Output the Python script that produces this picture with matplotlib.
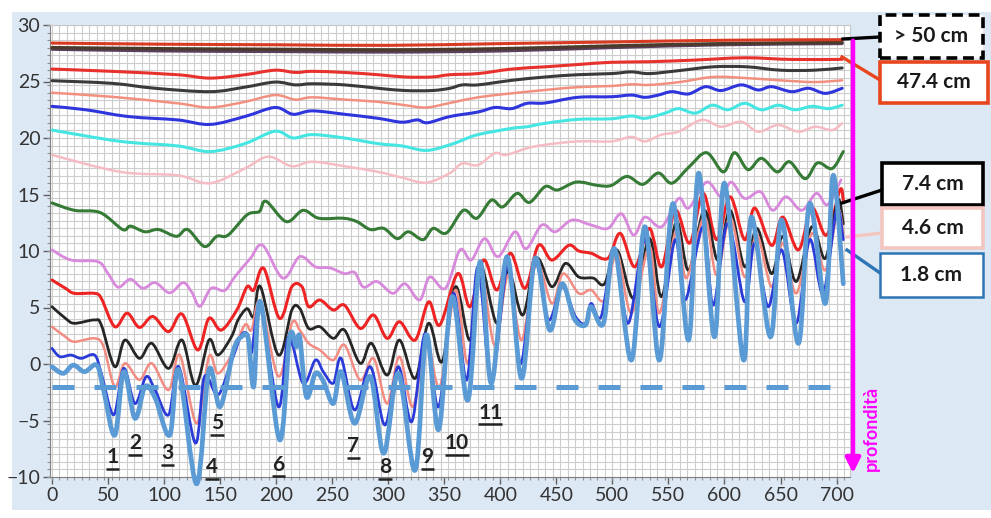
import matplotlib.pyplot as plt
import numpy as np
from matplotlib.patches import Rectangle, FancyArrowPatch, PathPatch
from matplotlib.path import Path
from matplotlib.lines import Line2D
from matplotlib.ticker import MultipleLocator

plt.rcParams['font.family'] = ['Lato', 'DejaVu Sans']

W, H = 991, 518

# ---- series (x = position, y = value) ----
top_red_x = [0, 100, 200, 300, 400, 500, 600, 705]
top_red_y = [28.4, 28.3, 28.25, 28.2, 28.35, 28.5, 28.65, 28.7]
top_dark_x = [0, 100, 200, 300, 400, 500, 600, 705]
top_dark_y = [28.0, 27.9, 27.85, 27.8, 27.9, 28.15, 28.35, 28.45]
top_purple_x = [0, 100, 200, 300, 400, 500, 600, 705]
top_purple_y = [27.85, 27.7, 27.65, 27.6, 27.7, 28.0, 28.25, 28.35]

red_up_x = [0, 53, 112, 141, 172, 199, 217, 232, 261, 291, 315, 339, 355, 380, 410,
            440, 469, 499, 533, 574, 618, 660, 705]
red_up_y = [26.1, 25.9, 25.6, 25.3, 25.6, 26.0, 25.8, 25.9, 25.8, 25.6, 25.4, 25.4, 25.6,
            25.7, 26.1, 26.3, 26.5, 26.7, 26.75, 26.9, 27.1, 26.95, 26.96]

black_up_x = [0, 53, 92, 141, 172, 199, 217, 232, 261, 291, 315, 339, 355, 366, 380, 410,
              440, 469, 499, 517, 533, 560, 590, 620, 650, 680, 705]
black_up_y = [25.07, 24.84, 24.4, 24.1, 24.5, 24.95, 24.7, 24.8, 24.7, 24.4, 24.2, 24.2, 24.4,
              24.7, 24.7, 25.1, 25.4, 25.6, 25.7, 25.85, 25.7, 25.97, 26.3, 26.3, 26.0, 26.0, 26.2]

salmon_up_x = [0, 53, 112, 141, 172, 199, 217, 232, 261, 291, 315, 334, 355, 380, 410,
               440, 469, 499, 517, 533, 560, 590, 620, 650, 680, 705]
salmon_up_y = [24.0, 23.65, 23.07, 22.7, 23.2, 23.8, 23.4, 23.6, 23.4, 23.2, 22.9, 22.7, 23.1,
               23.6, 23.95, 24.25, 24.5, 24.6, 24.75, 24.7, 24.95, 25.4, 25.3, 25.1, 24.95, 25.1]

blue_up_x = [0, 30, 68, 112, 141, 172, 199, 215, 232, 261, 291, 312, 326, 335, 355, 380, 395,
             410, 424, 440, 469, 499, 517, 529, 541, 553, 568, 583, 597, 615, 630, 642, 660,
             675, 690, 705]
blue_up_y = [22.8, 22.5, 21.9, 21.6, 21.2, 21.9, 22.7, 22.1, 22.4, 22.1, 21.74, 21.4, 21.6,
             21.35, 21.9, 22.3, 22.7, 22.6, 23.07, 23.1, 23.6, 23.65, 23.8, 23.6, 23.8, 24.1,
             23.9, 24.54, 24.2, 24.7, 24.25, 24.54, 24.1, 24.4, 23.95, 24.4]

cyan_up_x = [0, 61, 112, 141, 172, 199, 215, 232, 261, 291, 312, 334, 355, 366, 380, 410,
             424, 440, 469, 499, 517, 529, 547, 559, 574, 589, 603, 618, 633, 648, 663, 678,
             693, 705]
cyan_up_y = [20.7, 19.7, 19.3, 18.8, 19.5, 20.6, 20.0, 20.3, 20.0, 19.5, 19.3, 18.9, 19.4,
             19.8, 20.3, 20.85, 21.0, 21.3, 21.65, 21.7, 21.95, 21.74, 22.2, 22.6, 22.2, 22.9,
             22.5, 23.07, 22.5, 22.9, 22.5, 22.8, 22.6, 22.9]

pink_up_x = [0, 61, 112, 141, 172, 193, 214, 232, 261, 291, 312, 334, 355, 366, 380, 395,
             405, 424, 440, 469, 499, 517, 529, 544, 559, 580, 597, 615, 630, 648, 666, 681,
             696, 705]
pink_up_y = [18.5, 17.0, 16.7, 16.0, 17.3, 18.35, 17.5, 17.9, 17.5, 17.0, 16.5, 16.05, 16.9,
             17.75, 17.6, 18.65, 18.5, 19.1, 19.4, 19.7, 19.7, 20.1, 19.7, 20.3, 20.56, 21.6,
             21.0, 21.44, 20.56, 21.15, 20.56, 21.0, 20.7, 21.3]

green_x = [0, 20, 43, 63, 70, 83, 95, 111, 121, 136, 147, 157, 174, 185, 191, 209, 224, 238,
           260, 272, 284, 296, 308, 318, 331, 340, 352, 367, 379, 392, 402, 415, 426, 440,
           451, 468, 487, 499, 513, 527, 541, 553, 568, 584, 599, 609, 621, 633, 647, 658,
           672, 683, 696, 706]
green_y = [14.25, 13.6, 13.4, 11.9, 12.2, 11.7, 11.9, 11.3, 11.9, 10.4, 11.3, 11.4, 13.2,
           13.5, 14.4, 12.6, 13.6, 12.9, 12.9, 12.6, 11.9, 12.0, 11.1, 11.7, 11.0, 12.0, 11.6,
           13.6, 12.9, 14.5, 13.9, 15.1, 14.3, 15.7, 15.4, 16.1, 15.8, 15.8, 16.6, 15.9, 16.9,
           16.0, 17.4, 18.7, 17.0, 18.7, 17.2, 18.2, 17.0, 17.9, 16.4, 17.8, 17.3, 18.8]

violet_x = [0, 17, 41, 50, 59, 70, 81, 92, 105, 117, 125, 132, 142, 154, 163, 177, 188, 206,
            221, 235, 248, 261, 270, 278, 290, 304, 315, 328, 337, 351, 364, 374, 386, 398,
            413, 423, 437, 449, 464, 481, 496, 508, 519, 529, 544, 559, 568, 584, 597, 606,
            618, 632, 643, 655, 669, 682, 692, 704]
violet_y = [10.1, 9.2, 9.05, 8.0, 6.8, 7.5, 6.7, 7.2, 6.3, 7.2, 6.3, 5.1, 6.7, 6.5, 7.7, 9.35,
            10.5, 7.6, 9.5, 8.6, 8.5, 8.0, 8.1, 6.8, 7.3, 6.25, 7.1, 5.66, 7.7, 6.7, 10.1, 9.2,
            11.1, 9.5, 11.7, 10.2, 12.3, 11.7, 12.74, 12.3, 12.0, 13.3, 11.4, 13.0, 12.15,
            14.65, 13.8, 16.1, 14.8, 16.1, 14.65, 15.25, 13.6, 14.8, 13.6, 15.1, 14.1, 16.3]

red_lo_x = [0, 12, 20, 38, 44, 56, 67, 78, 90, 104, 116, 130, 140, 151, 165, 174, 180, 189,
            203, 214, 223, 229, 239, 251, 261, 275, 287, 299, 310, 324, 336, 346, 362, 373,
            385, 397, 409, 422, 434, 446, 461, 470, 481, 496, 507, 520, 533, 544, 556, 569,
            581, 593, 605, 618, 627, 642, 652, 666, 678, 691, 703, 706]
red_lo_y = [7.43, 6.7, 6.25, 6.25, 5.8, 3.3, 4.5, 3.24, 4.2, 2.86, 4.42, 1.24, 4.04, 3.0, 4.8,
            6.84, 6.55, 8.46, 4.04, 6.84, 6.84, 5.07, 5.66, 4.78, 5.2, 3.15, 4.33, 2.27, 3.74,
            2.12, 5.5, 3.45, 8.0, 5.07, 9.2, 6.55, 9.8, 6.7, 10.5, 9.2, 10.5, 10.0, 9.8, 9.35,
            11.56, 8.6, 12.0, 8.6, 13.6, 10.7, 15.1, 11.0, 14.8, 11.0, 13.8, 10.5, 13.0, 10.1,
            13.8, 11.4, 15.4, 14.5]

black_lo_x = [0, 12, 20, 38, 44, 56, 65, 78, 89, 104, 116, 128, 140, 148, 160, 166, 174,
              180, 186, 202, 214, 221, 229, 239, 251, 261, 275, 285, 299, 310, 324, 336, 348,
              360, 373, 382, 397, 407, 420, 432, 446, 458, 470, 483, 493, 504, 519, 533, 544,
              557, 568, 582, 594, 605, 618, 629, 642, 652, 664, 678, 690, 701, 706]
black_lo_y = [5.07, 4.04, 3.6, 3.9, 3.45, -0.24, 2.12, 0.5, 1.83, -0.39, 2.12, -1.9, 2.12,
              0.79, 2.4, 3.9, 4.9, 4.2, 6.84, 0.79, 4.78, 4.92, 3.15, 3.3, 2.27, 3.0, 0.06,
              1.83, -0.98, 2.12, -1.27, 3.6, 0.2, 6.84, 2.12, 8.76, 3.6, 8.3, 4.33, 9.35, 6.84,
              8.9, 7.7, 7.6, 7.1, 10.1, 5.8, 11.1, 5.96, 12.6, 8.3, 13.6, 9.2, 13.6, 8.6, 12.0,
              8.0, 11.3, 7.3, 12.15, 9.35, 14.5, 12.4]

salmon_lo_x = [0, 12, 20, 38, 46, 56, 65, 78, 89, 104, 114, 129, 140, 148, 160, 172, 178,
               186, 202, 214, 221, 229, 239, 251, 261, 275, 287, 299, 310, 322, 334, 346, 360,
               371, 382, 395, 407, 419, 432, 446, 456, 470, 481, 493, 504, 517, 533, 542, 557,
               566, 582, 593, 605, 618, 629, 642, 652, 664, 678, 690, 701, 706]
salmon_lo_y = [3.3, 2.4, 1.97, 2.27, 1.53, -2.0, 0.06, -1.4, 0.06, -2.3, 0.79, -5.25, 0.65,
               -0.83, 0.79, 3.45, 3.0, 5.5, -1.1, 3.6, 3.0, 1.83, 1.24, 0.35, 1.68, -1.42, 0.5,
               -3.5, 0.65, -3.78, 2.12, -2.0, 6.55, 0.06, 8.3, 1.68, 7.87, 2.12, 8.9, 5.36, 8.0,
               6.25, 6.55, 5.66, 9.8, 4.5, 10.4, 4.5, 11.9, 7.6, 13.0, 7.87, 13.0, 7.7, 11.4,
               6.84, 10.7, 6.25, 11.56, 8.3, 13.6, 11.5]

blue_lo_x = [0, 7, 17, 26, 38, 44, 55, 64, 74, 84, 92, 104, 113, 128, 136, 148, 160, 169,
             175, 178, 186, 202, 211, 224, 235, 242, 251, 258, 270, 284, 297, 309, 321, 333,
             345, 358, 370, 380, 392, 407, 418, 431, 443, 455, 467, 476, 481, 490, 502, 514,
             529, 542, 556, 565, 581, 590, 603, 618, 627, 639, 651, 664, 676, 688, 700, 706]
blue_lo_y = [1.38, 0.65, 0.79, 0.5, 0.79, -0.83, -4.5, -0.39, -3.5, -1.12, -2.3, -4.5, -0.24,
             -7.0, -1.12, -2.75, 0.2, 2.56, 2.56, 1.0, 5.07, -3.78, 2.4, -1.7, 0.35, -0.68,
             -1.7, 0.5, -4.07, -0.24, -5.4, -0.24, -5.1, 2.71, -3.78, 6.25, -1.42, 8.6, -1.42,
             8.9, 0.0, 8.9, 3.9, 6.84, 4.2, 3.6, 5.36, 4.2, 10.1, 3.6, 11.0, 3.3, 11.0, 5.66,
             12.15, 5.2, 12.45, 5.5, 10.7, 5.07, 10.1, 3.6, 11.0, 6.25, 13.6, 11.0]

steel_x = [0, 10, 19, 29, 40, 46, 56, 64, 74, 83, 92, 105, 113, 129, 140, 150, 162, 169,
           175, 180, 186, 203, 212, 218, 221, 227, 235, 242, 251, 258, 270, 284, 296, 309,
           324, 334, 345, 357, 371, 382, 392, 406, 419, 431, 444, 455, 466, 476, 481, 492,
           502, 517, 529, 542, 554, 568, 577, 591, 600, 617, 624, 641, 651, 666, 676, 690,
           697, 706]
steel_y = [-0.24, -0.83, -0.1, -0.68, -0.1, -2.3, -6.3, -0.68, -4.8, -2.0, -3.0, -6.3, -0.53,
           -10.6, -0.53, -3.78, 1.24, 2.4, 2.27, -2.0, 5.5, -6.7, 2.4, 1.53, 2.4, -2.9, -0.83,
           -1.5, -3.5, -0.68, -5.25, -1.12, -7.9, -0.83, -9.4, 2.56, -5.8, 5.96, -3.2, 9.05,
           -1.7, 9.5, -1.27, 9.35, 3.0, 7.1, 4.0, 3.45, 5.07, 3.6, 10.2, 0.35, 12.15, 0.35,
           14.2, 2.12, 16.9, 2.4, 16.0, 0.35, 13.0, 2.4, 12.74, 1.83, 14.2, 5.36, 16.7, 7.1]

threshold = -2.0
event_labels = ['1', '2', '3', '4', '5', '6', '7', '8', '9', '10', '11']
event_x = [54, 74, 103, 143, 147, 202, 269, 297, 335, 361, 391]
event_y = [-8.2, -7.0, -7.9, -9.1, -5.2, -8.9, -7.3, -9.1, -8.2, -7.0, -4.3]

box_labels = ['> 50 cm', '47.4 cm', '7.4 cm', '4.6 cm', '1.8 cm']


def fx(px):
    return px / W


def fy(py):
    return 1 - py / H


def smooth_path(xs, ys):
    # Excel style "smoothed line": cubic Bezier pieces through every data point
    p = np.column_stack([xs, ys]).astype(float)
    ext = np.vstack([p[0], p, p[-1]])
    verts = [p[0]]
    codes = [Path.MOVETO]
    for i in range(len(p) - 1):
        p0, p1, p2, p3 = ext[i], ext[i + 1], ext[i + 2], ext[i + 3]
        verts += [p1 + (p2 - p0) / 6, p2 - (p3 - p1) / 6, p2]
        codes += [Path.CURVE4] * 3
    return Path(verts, codes)


fig = plt.figure(figsize=(W / 100, H / 100), dpi=100, facecolor='white')
fig.patches.append(Rectangle((fx(12), fy(510)), fx(991) - fx(12), fy(12) - fy(510),
                             transform=fig.transFigure, facecolor='#dde8f5',
                             edgecolor='none', zorder=-10))

ax = fig.add_axes([fx(50), fy(477), fx(850) - fx(50), fy(25) - fy(477)])
ax.set_zorder(2)
ax.set_facecolor('white')
ax.set_xlim(-1.8, 712)
ax.set_ylim(-10, 30)

ax.xaxis.set_major_locator(MultipleLocator(50))
ax.yaxis.set_major_locator(MultipleLocator(5))
ax.xaxis.set_minor_locator(MultipleLocator(20 / 3))
ax.yaxis.set_minor_locator(MultipleLocator(2 / 3))
ax.xaxis.remove_overlapping_locs = False
ax.yaxis.remove_overlapping_locs = False
ax.grid(False, which='major')
ax.grid(True, which='minor', color='#cdcdcd', lw=0.8)
ax.set_axisbelow(True)
ax.tick_params(which='major', length=5, width=1, color='#606060', labelsize=14,
               labelcolor='#333333', pad=2)
ax.tick_params(which='minor', length=2.5, width=0.8, color='#909090')
for s in ['left', 'bottom']:
    ax.spines[s].set_color('#808080')
for s in ['top', 'right']:
    ax.spines[s].set_color('#c8c8c8')

series = [
    (top_purple_x, top_purple_y, '#5b3f5e', 2.2),
    (top_dark_x, top_dark_y, '#4a3b2c', 2.4),
    (top_red_x, top_red_y, '#d83a22', 2.2),
    (red_up_x, red_up_y, '#e8302c', 2.2),
    (black_up_x, black_up_y, '#3a3a3a', 2.2),
    (salmon_up_x, salmon_up_y, '#f2907f', 1.8),
    (blue_up_x, blue_up_y, '#2f35dc', 2.2),
    (cyan_up_x, cyan_up_y, '#45e6e2', 2.2),
    (pink_up_x, pink_up_y, '#f6bcc4', 1.8),
    (green_x, green_y, '#357a35', 2.2),
    (violet_x, violet_y, '#d889dc', 2.0),
    (red_lo_x, red_lo_y, '#ee2424', 2.2),
    (black_lo_x, black_lo_y, '#262626', 2.0),
    (salmon_lo_x, salmon_lo_y, '#f28c82', 1.8),
    (blue_lo_x, blue_lo_y, '#2a3bd8', 2.0),
    (steel_x, steel_y, '#5b9bd5', 3.4),
]
for xs, ys, c, lw in series:
    ax.add_patch(PathPatch(smooth_path(xs, ys), fill=False, edgecolor=c, lw=lw,
                           joinstyle='round', capstyle='round', clip_on=False, zorder=3))

ax.plot([0, 696], [threshold, threshold], color='#5b9bd5', lw=3.6,
        dashes=(4.4, 4.0), dash_capstyle='butt', zorder=4)

# underlined event numbers
for lab, x, y in zip(event_labels, event_x, event_y):
    ax.text(x, y, lab, ha='center', va='center', fontsize=15, fontweight='bold',
            color='#222222', zorder=5)
    half = 4.6 * len(lab) + 1.5
    ax.plot([x - half, x + half], [y - 1.05, y - 1.05], color='#222222', lw=1.8,
            solid_capstyle='butt', clip_on=False, zorder=5)

# magenta depth arrow
fig.patches.append(FancyArrowPatch((fx(853), fy(38)), (fx(853), fy(476)),
                                   transform=fig.transFigure, arrowstyle='-|>',
                                   mutation_scale=22, color='#ff00ff', lw=3.2, zorder=6))
fig.text(fx(871), fy(428), 'profondità', rotation=90, color='#ff00ff', fontsize=13,
         fontweight='bold', ha='center', va='center', zorder=6)

# legend boxes with connectors
boxes = [
    ((880, 15, 983, 58), 'black', (0, (3, 1.6)), ((843, 39), (880, 37))),
    ((880, 62, 988, 103), '#e8461e', '-', ((842, 57), (880, 80))),
    ((882, 163, 983, 205), 'black', '-', ((842, 203), (882, 190))),
    ((882, 208, 983, 248), '#f4c6c0', '-', ((847, 237), (882, 233))),
    ((880, 253, 983, 297), '#2e75b6', '-', ((847, 250), (883, 275))),
]
for (x0, y0, x1, y1), ec, ls, (p0, p1) in boxes:
    fig.lines.append(Line2D([fx(p0[0]), fx(p1[0])], [fy(p0[1]), fy(p1[1])],
                            transform=fig.transFigure, color=ec, lw=2.4, zorder=6))
for ((x0, y0, x1, y1), ec, ls, _), lab in zip(boxes, box_labels):
    lw = 2.6 if ec != '#2e75b6' else 1.8
    fig.patches.append(Rectangle((fx(x0), fy(y1)), fx(x1) - fx(x0), fy(y0) - fy(y1),
                                 transform=fig.transFigure, facecolor='white',
                                 edgecolor=ec, lw=lw, linestyle=ls, zorder=7))
    fig.text(fx((x0 + x1) / 2), fy((y0 + y1) / 2), lab, ha='center', va='center',
             fontsize=15, fontweight='bold', color='#1a1a1a', zorder=8)

fig.savefig('out.png', dpi=100, facecolor=fig.get_facecolor())
